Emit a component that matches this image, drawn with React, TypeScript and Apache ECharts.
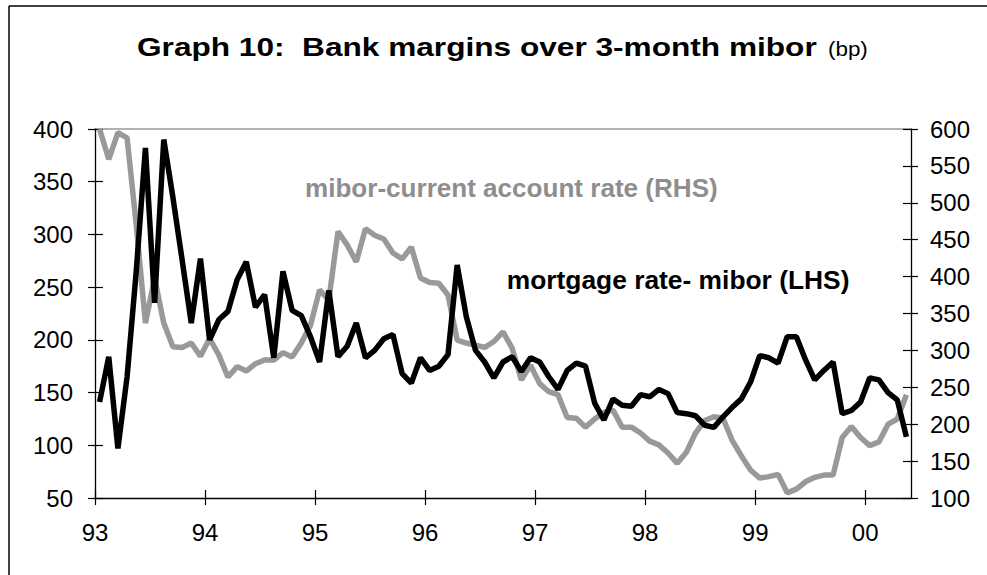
import React, { useEffect, useRef } from "react";
import * as echarts from "echarts";

// Year tick labels (one every 12 months, Jan 1993 .. Jan 2000)
const yearLabels = ["93", "94", "95", "96", "97", "98", "99", "00"];

// Monthly, Jan 1993 .. May 2000 (bp)
// mortgage rate - mibor (LHS)
const mortgageMinusMibor = [
  141, 184, 97, 165, 265, 382, 235, 390, 335, 276, 216, 277,
  200, 219, 227, 257, 274, 231, 243, 183, 265, 228, 223, 203,
  179, 247, 184, 194, 216, 183, 190, 201, 205, 168, 159, 183,
  171, 175, 186, 271, 222, 190, 179, 164, 179, 184, 170, 183,
  179, 165, 153, 171, 178, 175, 140, 124, 144, 138, 137, 148,
  146, 153, 149, 131, 130, 128, 119, 117, 127, 136, 144, 160,
  185, 183, 178, 203, 203, 181, 162, 171, 179, 130, 133, 141,
  164, 162, 150, 143, 108,
];

// mibor - current account rate (RHS)
const miborMinusCurrentAccount = [
  600, 559, 595, 588, 470, 337, 398, 337, 305, 304, 310, 292,
  316, 294, 264, 278, 272, 282, 287, 287, 297, 291, 310, 334,
  382, 368, 461, 443, 420, 465, 456, 451, 432, 424, 440, 398,
  392, 391, 375, 314, 310, 307, 304, 312, 325, 303, 260, 280,
  255, 244, 240, 209, 208, 196, 207, 216, 219, 196, 196, 188,
  177, 172, 161, 147, 162, 188, 205, 210, 208, 178, 157, 138,
  127, 129, 132, 107, 112, 122, 128, 131, 131, 182, 197, 182,
  171, 176, 200, 207, 240,
];

const titleMain = "Graph 10:  Bank margins over 3-month mibor";
const titleUnit = "(bp)";
const labelRhs = "mibor-current account rate (RHS)";
const labelLhs = "mortgage rate- mibor (LHS)";

const FONT = "'Liberation Sans', Arial, Helvetica, sans-serif";

export default function App() {
  const ref = useRef<HTMLDivElement>(null);

  useEffect(() => {
    if (!ref.current) return;
    const chart = echarts.init(ref.current, null, { renderer: "svg" });
    const nMonths = mortgageMinusMibor.length;
    const tickVals = yearLabels.map((_, k) => k * 12);
    const toPairs = (arr: number[]) => arr.map((v, i) => [i + 0.5, v]);

    const baseX = {
      type: "value",
      min: 0,
      max: nMonths,
      splitLine: { show: false },
    };
    const labelStyle = { fontSize: 24, color: "#000", fontFamily: FONT };

    const option = {
      animation: false,
      backgroundColor: "#ffffff",
      grid: { left: 95, right: 76, top: 129, bottom: 77, containLabel: false },
      xAxis: [
        {
          ...baseX,
          position: "bottom",
          axisLine: { show: true, onZero: false, lineStyle: { color: "#000", width: 1.3 } },
          axisTick: { show: true, inside: false, length: 7, customValues: tickVals, lineStyle: { color: "#000", width: 1.2 } },
          axisLabel: {
            ...labelStyle,
            margin: 22,
            customValues: tickVals,
            formatter: (v: number) => yearLabels[Math.round(v / 12)] ?? "",
          },
        },
        {
          ...baseX,
          position: "bottom",
          axisLine: { show: false, onZero: false },
          axisTick: { show: true, inside: true, length: 8, customValues: tickVals, lineStyle: { color: "#000", width: 1.2 } },
          axisLabel: { show: false },
        },
        {
          ...baseX,
          position: "top",
          axisLine: { show: true, onZero: false, lineStyle: { color: "#999999", width: 1.5 } },
          axisTick: { show: false },
          axisLabel: { show: false },
        },
      ],
      yAxis: [
        {
          type: "value", position: "left", min: 50, max: 400, interval: 50,
          splitLine: { show: false },
          axisLine: { show: true, onZero: false, lineStyle: { color: "#000", width: 1.3 } },
          axisTick: { show: true, inside: false, length: 7, lineStyle: { color: "#000", width: 1.2 } },
          axisLabel: { ...labelStyle, margin: 22 },
        },
        {
          type: "value", position: "right", min: 100, max: 600, interval: 50,
          splitLine: { show: false },
          axisLine: { show: true, onZero: false, lineStyle: { color: "#000", width: 1.3 } },
          axisTick: { show: true, inside: false, length: 7, lineStyle: { color: "#000", width: 1.2 } },
          axisLabel: { ...labelStyle, margin: 19 },
        },
        {
          type: "value", position: "left", min: 50, max: 400, interval: 50,
          splitLine: { show: false },
          axisLine: { show: false, onZero: false },
          axisTick: { show: true, inside: true, length: 8, lineStyle: { color: "#000", width: 1.2 } },
          axisLabel: { show: false },
        },
        {
          type: "value", position: "right", min: 100, max: 600, interval: 50,
          splitLine: { show: false },
          axisLine: { show: false, onZero: false },
          axisTick: { show: true, inside: true, length: 8, lineStyle: { color: "#000", width: 1.2 } },
          axisLabel: { show: false },
        },
      ],
      series: [
        {
          name: labelRhs,
          type: "line",
          xAxisIndex: 0,
          yAxisIndex: 1,
          data: toPairs(miborMinusCurrentAccount),
          showSymbol: false,
          clip: false,
          lineStyle: { color: "#999999", width: 5.5 },
          itemStyle: { color: "#999999" },
          z: 2,
        },
        {
          name: labelLhs,
          type: "line",
          xAxisIndex: 0,
          yAxisIndex: 0,
          data: toPairs(mortgageMinusMibor),
          showSymbol: false,
          clip: false,
          lineStyle: { color: "#000000", width: 5.5 },
          itemStyle: { color: "#000000" },
          z: 3,
        },
      ],
      graphic: [
        { type: "line", shape: { x1: 9, y1: 6, x2: 9, y2: 600 }, style: { stroke: "#000", lineWidth: 1.5 } },
        { type: "line", shape: { x1: 9, y1: 6, x2: 1000, y2: 6 }, style: { stroke: "#000", lineWidth: 1.5 } },
        {
          type: "text", x: 137, y: 47.5, scaleX: 1.216,
          style: { text: titleMain, font: `bold 26px ${FONT}`, fill: "#000", align: "left", verticalAlign: "middle" },
        },
        {
          type: "text", x: 828, y: 49, scaleX: 1.12,
          style: { text: titleUnit, font: `20px ${FONT}`, fill: "#000", align: "left", verticalAlign: "middle" },
        },
        {
          type: "text", x: 305, y: 188, scaleX: 1.043,
          style: { text: labelRhs, font: `bold 25px ${FONT}`, fill: "#8e8e8e", align: "left", verticalAlign: "middle" },
        },
        {
          type: "text", x: 506.7, y: 280, scaleX: 1.055,
          style: { text: labelLhs, font: `bold 25px ${FONT}`, fill: "#000", align: "left", verticalAlign: "middle" },
        },
      ],
    };

    chart.setOption(option as any);
    return () => chart.dispose();
  }, []);

  return (
    <div
      ref={ref}
      style={{ position: "absolute", left: 0, top: 0, width: 987, height: 575 }}
    />
  );
}
